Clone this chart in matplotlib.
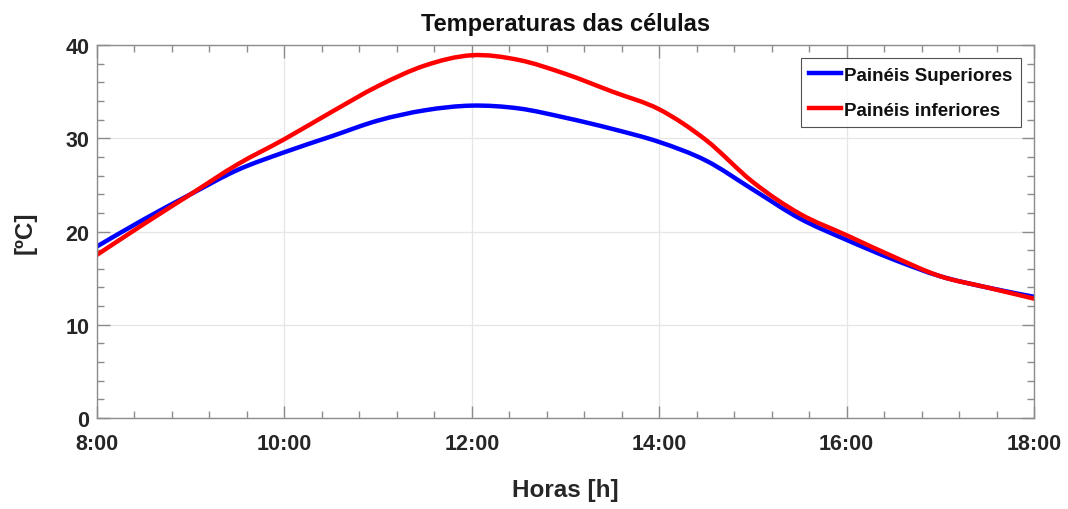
import matplotlib
matplotlib.use('Agg')
import matplotlib.pyplot as plt
from matplotlib.ticker import MultipleLocator, FuncFormatter
from matplotlib.path import Path
from matplotlib.patches import PathPatch
from matplotlib.lines import Line2D

# horas (decimal) e temperaturas lidas a cada meia hora
horas = [8.0, 8.5, 9.0, 9.5, 10.0, 10.5, 11.0, 11.5, 12.0, 12.5, 13.0,
         13.5, 14.0, 14.5, 15.0, 15.5, 16.0, 16.5, 17.0, 17.5, 18.0]
t_superiores = [18.4, 21.3, 24.0, 26.6, 28.5, 30.2, 31.9, 33.0, 33.5, 33.2, 32.2,
                31.0, 29.6, 27.6, 24.5, 21.4, 19.1, 17.0, 15.2, 14.0, 13.0]
t_inferiores = [17.5, 20.8, 24.0, 27.2, 29.9, 32.8, 35.6, 37.8, 38.9, 38.4, 36.9,
                35.0, 33.1, 29.8, 25.3, 21.9, 19.6, 17.3, 15.2, 14.0, 12.8]
rotulos = ['Painéis Superiores', 'Painéis inferiores']
cores = ['#0000ff', '#ff0000']

plt.rcParams['font.family'] = ['Liberation Sans', 'DejaVu Sans']
plt.rcParams['font.weight'] = 'bold'


def curva_suave(x, y):
    # caminho Bezier (Catmull-Rom) passando pelos pontos
    verts = [(x[0], y[0])]
    codes = [Path.MOVETO]
    n = len(x)
    for i in range(n - 1):
        x0, y0 = (x[i - 1], y[i - 1]) if i > 0 else (x[i], y[i])
        x3, y3 = (x[i + 2], y[i + 2]) if i + 2 < n else (x[i + 1], y[i + 1])
        c1 = (x[i] + (x[i + 1] - x0) / 6, y[i] + (y[i + 1] - y0) / 6)
        c2 = (x[i + 1] - (x3 - x[i]) / 6, y[i + 1] - (y3 - y[i]) / 6)
        verts += [c1, c2, (x[i + 1], y[i + 1])]
        codes += [Path.CURVE4] * 3
    return Path(verts, codes)


fig = plt.figure(figsize=(10.68, 5.10), dpi=100)
ax = fig.add_axes([0.0908, 0.1784, 0.8774, 0.7314])

for serie, cor in zip([t_superiores, t_inferiores], cores):
    ax.add_patch(PathPatch(curva_suave(horas, serie), fill=False,
                           edgecolor=cor, lw=3.2, capstyle='round'))

ax.set_xlim(8, 18)
ax.set_ylim(0, 40)
ax.xaxis.set_major_locator(MultipleLocator(2))
ax.xaxis.set_minor_locator(MultipleLocator(0.4))
ax.yaxis.set_major_locator(MultipleLocator(10))
ax.yaxis.set_minor_locator(MultipleLocator(2))
ax.xaxis.set_major_formatter(FuncFormatter(lambda v, p: '%d:00' % round(v)))

ax.grid(True, which='major', color='#e6e6e6', lw=0.9)
ax.set_axisbelow(True)
for s in ax.spines.values():
    s.set_color('#8c8c8c')
    s.set_linewidth(1.0)
ax.tick_params(which='both', direction='in', top=True, right=True,
               colors='#8c8c8c', labelcolor='#262626', labelsize=15.5)
ax.tick_params(which='major', length=9, width=1)
ax.tick_params(which='minor', length=5, width=1)
ax.tick_params(axis='x', pad=11)
ax.tick_params(axis='y', pad=5.5)

ax.set_title('Temperaturas das células', fontsize=17, fontweight='bold',
             color='#111111', pad=11)
ax.set_xlabel('Horas [h]', fontsize=17.5, fontweight='bold', color='#262626',
              labelpad=17)
ax.set_ylabel('[ºC]', fontsize=17.5, fontweight='bold', color='#262626',
              labelpad=21)

handles = [Line2D([], [], color=c, lw=3.2) for c in cores]
leg = ax.legend(handles, rotulos, loc='upper right', fontsize=13.5, frameon=True,
                fancybox=False, edgecolor='#262626', handlelength=1.7,
                handletextpad=0.15, borderpad=0.45, labelspacing=0.95,
                borderaxespad=0.7)
leg.get_frame().set_linewidth(0.8)
for t in leg.get_texts():
    t.set_color('#111111')

fig.savefig('out.png', dpi=100, facecolor='white')
